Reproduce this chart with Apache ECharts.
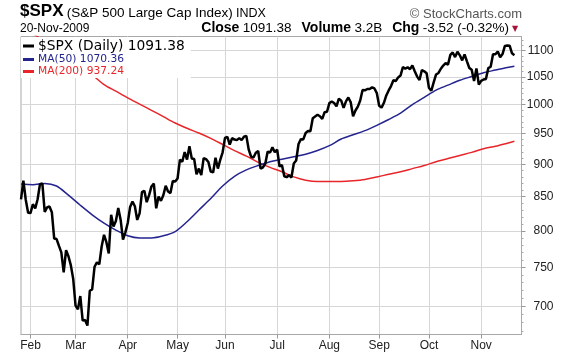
<!DOCTYPE html>
<html><head><meta charset="utf-8">
<script src="https://cdn.jsdelivr.net/npm/echarts@6/dist/echarts.min.js"></script>
<style>html,body{margin:0;padding:0;background:#fff}#c{width:576px;height:356px}</style>
</head><body><div id="c"></div>
<script>
// ---- data ----
const months = ['Jan','Feb','Mar','Apr','May','Jun','Jul','Aug','Sep','Oct','Nov'];
const tradingDays = {
  Jan:[27,28,29,30],
  Feb:[2,3,4,5,6,9,10,11,12,13,17,18,19,20,23,24,25,26,27],
  Mar:[2,3,4,5,6,9,10,11,12,13,16,17,18,19,20,23,24,25,26,27,30,31],
  Apr:[1,2,3,6,7,8,9,13,14,15,16,17,20,21,22,23,24,27,28,29,30],
  May:[1,4,5,6,7,8,11,12,13,14,15,18,19,20,21,22,26,27,28,29],
  Jun:[1,2,3,4,5,8,9,10,11,12,15,16,17,18,19,22,23,24,25,26,29,30],
  Jul:[1,2,6,7,8,9,10,13,14,15,16,17,20,21,22,23,24,27,28,29,30,31],
  Aug:[3,4,5,6,7,10,11,12,13,14,17,18,19,20,21,24,25,26,27,28,31],
  Sep:[1,2,3,4,8,9,10,11,14,15,16,17,18,21,22,23,24,25,28,29,30],
  Oct:[1,2,5,6,7,8,9,12,13,14,15,16,19,20,21,22,23,26,27,28,29,30],
  Nov:[2,3,4,5,6,9,10,11,12,13,16,17,18,19,20]
};
const padDays = ['Nov 23','Nov 24','Nov 25'];

const spx = [
  845.71,874.09,845.14,825.88,
  825.44,838.51,832.23,845.85,868.60,869.89,827.16,833.74,835.19,826.84,789.17,788.42,778.94,770.05,743.33,773.14,764.90,752.83,735.09,
  700.82,696.33,712.87,682.55,683.38,676.53,719.60,721.36,750.74,756.55,753.89,778.12,794.35,784.04,768.54,822.92,806.12,813.88,832.86,815.94,787.53,797.87,
  811.08,834.38,842.50,835.48,815.55,825.16,856.56,858.73,841.50,852.06,865.30,869.60,832.39,850.08,843.55,851.92,866.23,857.51,855.16,873.64,872.81,
  877.52,907.24,903.80,919.53,907.39,929.23,909.24,908.35,883.92,893.07,882.88,909.71,908.13,903.47,888.33,887.00,910.33,893.06,906.83,919.14,
  942.87,944.74,931.76,942.46,940.09,939.14,942.43,939.15,944.89,946.21,923.72,911.97,910.71,918.37,921.23,893.04,895.10,900.94,920.26,918.90,927.23,919.32,
  923.33,896.42,898.72,881.03,879.56,882.68,879.13,901.05,905.84,932.68,940.74,940.38,951.13,954.58,954.07,976.29,979.26,982.18,979.62,975.15,986.75,987.48,
  1002.63,1005.65,1002.72,997.08,1010.48,1007.10,994.35,1005.81,1012.73,1004.09,979.73,989.67,996.46,1007.37,1026.13,1025.57,1028.00,1028.12,1030.98,1028.93,1020.62,
  998.04,994.75,1003.24,1016.40,1025.39,1033.37,1044.14,1042.73,1049.34,1052.63,1068.76,1065.49,1068.30,1064.66,1071.66,1060.87,1050.78,1044.38,1062.98,1060.61,1057.08,
  1029.85,1025.21,1040.46,1054.72,1057.58,1065.48,1071.49,1076.19,1073.19,1092.02,1096.56,1087.68,1097.91,1091.06,1081.40,1092.91,1079.60,1066.95,1063.41,1042.63,1066.11,1036.19,
  1042.88,1045.41,1046.50,1066.63,1069.30,1093.08,1093.01,1098.51,1087.24,1093.48,1109.30,1110.32,1109.80,1094.90,1091.38
];

const maDates = ['Jan 27','Feb 3','Feb 10','Feb 18','Feb 25','Mar 4','Mar 11','Mar 18','Mar 25','Apr 1','Apr 8','Apr 16','Apr 23','Apr 30',
  'May 7','May 14','May 21','May 29','Jun 5','Jun 12','Jun 19','Jun 26','Jul 6','Jul 13','Jul 20','Jul 27','Aug 3','Aug 10','Aug 17','Aug 24','Aug 31',
  'Sep 8','Sep 15','Sep 22','Sep 29','Oct 6','Oct 13','Oct 20','Oct 27','Nov 3','Nov 10','Nov 17','Nov 20'];
const ma50 = [869,868,870,866,852,837,823,811,801,793,790,790,793,799,
  813,830,847,866,881,891,898,904,908,912,916,922,930,941,948,955,964,
  974,985,1000,1013,1026,1035,1044,1051,1058,1063,1068,1070.36];
const ma200 = [1148,1134,1117,1099,1083,1069,1054,1036,1024,1012,1001,990,979,968,
  959,951,942,932,922,913,903,895,888,880,875,873,873,873,874,876,880,
  884,888,893,898,904,909,914,919,925,929,934,937.24];

const monthTickDates = ['Feb 2','Mar 2','Apr 1','May 1','Jun 1','Jul 1','Aug 3','Sep 1','Oct 1','Nov 2'];
const monthLabels = ['Feb','Mar','Apr','May','Jun','Jul','Aug','Sep','Oct','Nov'];
const yTicks = [700,750,800,850,900,950,1000,1050,1100];
const yMinorTicks = [670,680,690,710,720,730,740,760,770,780,790,810,820,830,840,860,870,880,890,910,920,930,940,960,970,980,990,1010,1020,1030,1040,1060,1070,1080,1090,1110,1120];

const titleParts = ['$SPX','(S&P 500 Large Cap Index)','INDX'];
const dateText = '20-Nov-2009';
const quoteParts = ['Close','1091.38','Volume','3.2B','Chg','-3.52 (-0.32%)'];
const creditText = '\u00a9 StockCharts.com';
const seriesNames = ['$SPX (Daily)','MA(50)','MA(200)'];

// ---- build ----
const categories = [];
months.forEach(m => tradingDays[m].forEach(d => categories.push(m + ' ' + d)));
padDays.forEach(d => categories.push(d));
const isMonthStart = (idx, val) => monthTickDates.indexOf(val) >= 0;
const lastVals = {};
lastVals[seriesNames[0]] = spx[spx.length-1].toFixed(2);
lastVals[seriesNames[1]] = ma50[ma50.length-1].toFixed(2);
lastVals[seriesNames[2]] = ma200[ma200.length-1].toFixed(2);

const COL_SPX = '#000000', COL_50 = '#24248f', COL_200 = '#e8262a';
const FONT = '"Liberation Sans", Arial, sans-serif';

const chart = echarts.init(document.getElementById('c'), null, {renderer:'canvas'});
chart.setOption({
  animation: false,
  backgroundColor: '#fff',
  grid: { left: 21, right: 54.5, top: 36.5, bottom: 21.5, show: true, borderColor: '#a8a8a8', borderWidth: 1, backgroundColor: 'transparent' },
  xAxis: {
    type: 'category', data: categories, boundaryGap: false,
    axisLine: { show: true, lineStyle: { color: '#a8a8a8' } },
    axisTick: { show: true, interval: isMonthStart, length: 4, lineStyle: { color: '#999' } },
    axisLabel: { interval: isMonthStart, formatter: v => monthLabels[monthTickDates.indexOf(v)], color: '#222', fontSize: 12, fontFamily: FONT, margin: 5 },
    splitLine: { show: true, interval: isMonthStart, lineStyle: { color: '#d6d6d6', width: 1 } }
  },
  yAxis: [{
    type: 'log', logBase: 10, position: 'right', min: 666, max: 1128,
    axisLine: { show: true, lineStyle: { color: '#a8a8a8' } },
    axisTick: { show: true, customValues: yTicks, length: 4, lineStyle: { color: '#999' } },
    axisLabel: { customValues: yTicks, align: 'right', margin: 32, color: '#222', fontSize: 12, fontFamily: FONT, formatter: v => String(Math.round(v)) },
    splitLine: { show: true, lineStyle: { color: '#d6d6d6', width: 1 } }
  }, {
    type: 'log', logBase: 10, position: 'right', min: 666, max: 1128,
    axisLine: { show: false }, axisLabel: { show: false }, splitLine: { show: false },
    axisTick: { show: true, customValues: yMinorTicks, length: 2, lineStyle: { color: '#aaa' } }
  }],
  legend: {
    left: 21, top: 37, orient: 'vertical', backgroundColor: '#fff', padding: [2, 6, 1, 2], itemGap: 1,
    itemWidth: 11, itemHeight: 3, icon: 'rect', selectedMode: false,
    formatter: n => n + ' ' + lastVals[n],
    textStyle: { fontFamily: '"DejaVu Sans", Verdana, sans-serif', fontSize: 10.7, padding: [0,0,0,-1] },
    data: [
      { name: seriesNames[0], textStyle: { color: COL_SPX, fontSize: 13.8 } },
      { name: seriesNames[1], textStyle: { color: COL_50 } },
      { name: seriesNames[2], textStyle: { color: COL_200 } }
    ]
  },
  graphic: [
    { type: 'text', x: 20, y: 20, style: { text: '{a|' + titleParts[0] + '} {b|' + titleParts[1] + '} {c|' + titleParts[2] + '}', fill: '#000', textVerticalAlign: 'bottom', verticalAlign: 'bottom',
      rich: { a: { fontSize: 17, fontWeight: 'bold', fontFamily: FONT, verticalAlign: 'bottom' }, b: { fontSize: 13.5, fontFamily: FONT, verticalAlign: 'bottom' }, c: { fontSize: 12.5, fontFamily: FONT, verticalAlign: 'bottom' } } } },
    { type: 'text', x: 522, y: 20.5, style: { text: creditText, fill: '#555', font: '13px ' + FONT, textAlign: 'right', align: 'right', textVerticalAlign: 'bottom', verticalAlign: 'bottom' } },
    { type: 'text', x: 20, y: 35, style: { text: dateText, fill: '#000', font: '12px ' + FONT, textVerticalAlign: 'bottom', verticalAlign: 'bottom' } },
    { type: 'text', x: 509, y: 35, style: { text: '{b|' + quoteParts[0] + '} {r|' + quoteParts[1] + '}   {b|' + quoteParts[2] + '} {r|' + quoteParts[3] + '}   {b|' + quoteParts[4] + '} {r|' + quoteParts[5] + '}',
      fill: '#000', textAlign: 'right', align: 'right', textVerticalAlign: 'bottom', verticalAlign: 'bottom',
      rich: { b: { fontSize: 14, fontWeight: 'bold', fontFamily: FONT, verticalAlign: 'bottom' }, r: { fontSize: 13.5, fontFamily: FONT, verticalAlign: 'bottom' } } } },
    { type: 'text', x: 515, y: 29, style: { text: '\u25BC', fill: '#a8123a', font: '8px "DejaVu Sans"', textAlign: 'center', align: 'center', textVerticalAlign: 'middle', verticalAlign: 'middle' } }
  ],
  series: [
    { name: seriesNames[2], type: 'line', yAxisIndex: 0, data: maDates.map((d, k) => [d, ma200[k]]), smooth: 0.3, showSymbol: false, symbol: 'none', color: COL_200, lineStyle: { color: COL_200, width: 1.5 }, z: 2 },
    { name: seriesNames[1], type: 'line', yAxisIndex: 0, data: maDates.map((d, k) => [d, ma50[k]]), smooth: 0.3, showSymbol: false, symbol: 'none', color: COL_50, lineStyle: { color: COL_50, width: 1.5 }, z: 3 },
    { name: seriesNames[0], type: 'line', yAxisIndex: 0, data: spx, showSymbol: false, symbol: 'none', color: COL_SPX, lineStyle: { color: COL_SPX, width: 2.5 }, z: 4 }
  ]
});
</script></body></html>
